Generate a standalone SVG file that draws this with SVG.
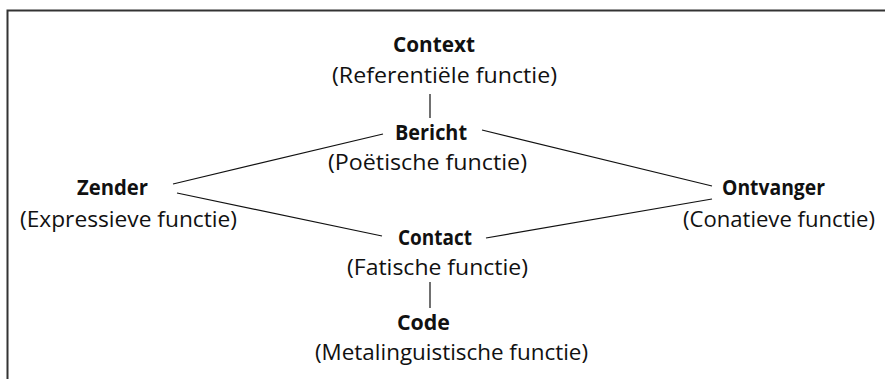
<svg xmlns="http://www.w3.org/2000/svg" width="885" height="379" viewBox="0 0 885 379">
<style>
text{font-family:"Open Sans","Noto Sans","Liberation Sans",sans-serif;font-size:21.5px;fill:#111;text-anchor:start}
.b{font-weight:bold}
.ln{stroke:#111;stroke-width:1.2;fill:none}
</style>
<rect width="885" height="379" fill="#fff"/>
<path d="M7.5,379 V10.5 H885" fill="none" stroke="#333" stroke-width="2"/>
<g id="connectors">
<line class="ln" x1="430" y1="94" x2="430" y2="118"/>
<line class="ln" x1="430" y1="282" x2="430" y2="308"/>
<line class="ln" x1="173" y1="184" x2="383" y2="134"/>
<line class="ln" x1="482" y1="130" x2="712" y2="186"/>
<line class="ln" x1="177" y1="193" x2="382" y2="236"/>
<line class="ln" x1="486" y1="238" x2="712" y2="199"/>
</g>
<g id="context">
<text class="b" x="393" y="52" textLength="82" lengthAdjust="spacingAndGlyphs">Context</text>
<text x="332" y="83" textLength="225" lengthAdjust="spacingAndGlyphs">(Referentiële functie)</text>
</g>
<g id="bericht">
<text class="b" x="395" y="140" textLength="72" lengthAdjust="spacingAndGlyphs">Bericht</text>
<text x="328" y="170" textLength="199" lengthAdjust="spacingAndGlyphs">(Poëtische functie)</text>
</g>
<g id="zender">
<text class="b" x="77" y="195" textLength="71" lengthAdjust="spacingAndGlyphs">Zender</text>
<text x="20" y="227" textLength="217" lengthAdjust="spacingAndGlyphs">(Expressieve functie)</text>
</g>
<g id="ontvanger">
<text class="b" x="722" y="195" textLength="103" lengthAdjust="spacingAndGlyphs">Ontvanger</text>
<text x="683" y="227" textLength="192" lengthAdjust="spacingAndGlyphs">(Conatieve functie)</text>
</g>
<g id="contact">
<text class="b" x="398" y="245" textLength="74" lengthAdjust="spacingAndGlyphs">Contact</text>
<text x="347" y="275" textLength="181" lengthAdjust="spacingAndGlyphs">(Fatische functie)</text>
</g>
<g id="code">
<text class="b" x="397" y="330" textLength="53" lengthAdjust="spacingAndGlyphs">Code</text>
<text x="315" y="360" textLength="273" lengthAdjust="spacingAndGlyphs">(Metalinguistische functie)</text>
</g>
</svg>
